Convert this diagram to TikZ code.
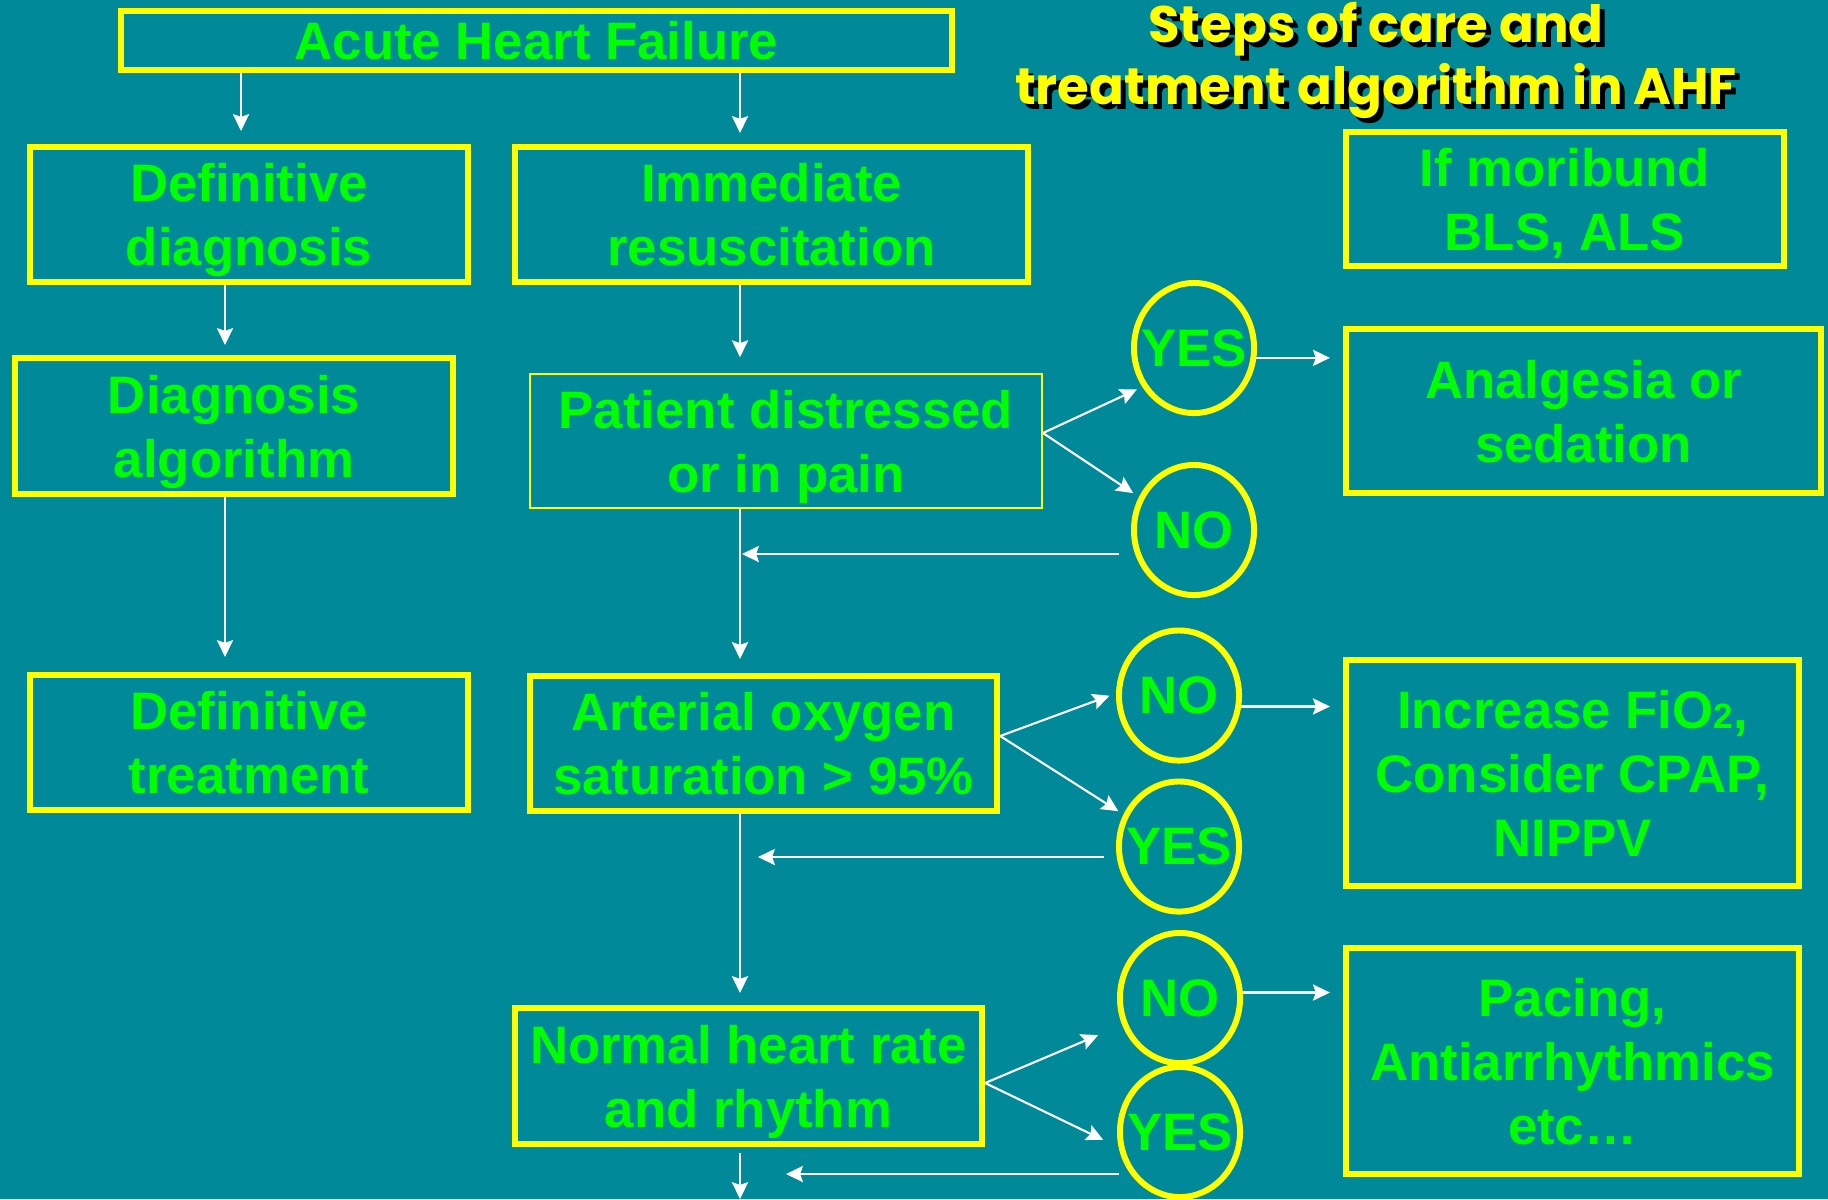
\documentclass[tikz,border=0pt]{standalone}
\usepackage{fontspec}
\setmainfont{Liberation Sans}
\newfontfamily\titlefont{Poppins}
\usetikzlibrary{arrows.meta,shapes.geometric}

\definecolor{slidebg}{RGB}{0,137,153}
\definecolor{boxyellow}{RGB}{255,255,0}
\definecolor{textgreen}{RGB}{0,255,0}

\tikzset{
  box/.style={draw=boxyellow, line width=1.7pt, inner sep=0pt, align=center,
    text=textgreen, text depth=0pt, font=\fontsize{15}{18.2}\selectfont\bfseries},
  thinbox/.style={box, line width=0.45pt},
  answer/.style={ellipse, draw=boxyellow, line width=1.7pt, inner sep=0pt,
    minimum width=1.2cm, minimum height=1.3cm, text=textgreen, text depth=0pt,
    font=\fontsize{15}{18.2}\selectfont\bfseries},
  titletext/.style={align=center, text=boxyellow, inner sep=0pt,
    font=\titlefont\fontsize{14.6}{17.6}\selectfont\bfseries},
  arr/.style={draw=white, line width=0.6pt,
    -{Stealth[length=4.8pt,width=4.6pt,inset=0.8pt]}}
}

\begin{document}
\begin{tikzpicture}[x=0.01cm, y=-0.01cm]
    % Slide background
    \useasboundingbox (0,0) rectangle (1828,1199);
    \fill[slidebg] (0,0) rectangle (1828,1199);

    % Title
    \node[titletext, text=black] (titleshadow) at (1381,65) {Steps of care and\\treatment algorithm in AHF};
    \node[titletext] (title) at (1376,60) {Steps of care and\\treatment algorithm in AHF};

    % Boxes
    \node[box, minimum width=8.31cm, minimum height=0.59cm] (ahf) at (536.5,40.5) {Acute Heart Failure};
    \node[box, minimum width=4.38cm, minimum height=1.35cm] (defdiag) at (249,214.5) {Definitive\\diagnosis};
    \node[box, minimum width=5.13cm, minimum height=1.35cm] (immed) at (771.5,214.5) {Immediate\\resuscitation};
    \node[box, minimum width=4.38cm, minimum height=1.34cm] (moribund) at (1565,199) {If moribund\\BLS, ALS};
    \node[box, minimum width=4.38cm, minimum height=1.36cm] (diagalg) at (234,426) {Diagnosis\\algorithm};
    \node[thinbox, minimum width=5.12cm, minimum height=1.34cm] (patient) at (786,441) {Patient distressed\\or in pain};
    \node[box, minimum width=4.75cm, minimum height=1.64cm] (analg) at (1583.5,411) {Analgesia or\\sedation};
    \node[box, minimum width=4.38cm, minimum height=1.35cm] (deftreat) at (249,742.5) {Definitive\\treatment};
    \node[box, minimum width=4.67cm, minimum height=1.35cm] (arterial) at (763.5,743.5) {Arterial oxygen\\saturation > 95\%};
    \node[box, minimum width=4.53cm, minimum height=2.26cm] (fio2) at (1572.5,773) {Increase FiO{\fontsize{10}{12}\selectfont 2},\\Consider CPAP,\\NIPPV};
    \node[box, minimum width=4.67cm, minimum height=1.36cm] (normal) at (748.5,1076) {Normal heart rate\\and rhythm};
    \node[box, minimum width=4.53cm, minimum height=2.26cm] (pacing) at (1572.5,1061) {Pacing,\\Antiarrhythmics\\etc…};

    % Yes / no circles
    \node[answer] (yes1) at (1194,348) {\makebox[0pt]{YES}};
    \node[answer] (no1) at (1194,530) {\makebox[0pt]{NO}};
    \node[answer] (no2) at (1179,695.5) {\makebox[0pt]{NO}};
    \node[answer] (yes2) at (1179,846.5) {\makebox[0pt]{YES}};
    \node[answer] (no3) at (1180,998) {\makebox[0pt]{NO}};
    \node[answer] (yes3) at (1180,1132) {\makebox[0pt]{YES}};

    % Spines
    \coordinate (ahfleft) at (241,0);
    \coordinate (leftspine) at (225,0);
    \coordinate (midspine) at (740,0);
    \coordinate (bottomend) at (740,1199);

    % From Acute Heart Failure
    \draw[arr, shorten >=0.13cm] (ahf.south -| ahfleft) -- (defdiag.north -| ahfleft);
    \draw[arr, shorten >=0.11cm] (ahf.south -| midspine) -- (immed.north -| midspine);

    % Left column
    \draw[arr, shorten >=0.10cm] (defdiag.south -| leftspine) -- (diagalg.north -| leftspine);
    \draw[arr, shorten >=0.15cm] (diagalg.south -| leftspine) -- (deftreat.north -| leftspine);

    % Middle column
    \draw[arr, shorten >=0.16cm] (immed.south -| midspine) -- (patient.north -| midspine);
    \draw[arr, shorten >=0.14cm] (patient.south -| midspine) -- (arterial.north -| midspine);
    \draw[arr, shorten >=0.12cm] (arterial.south -| midspine) -- (normal.north -| midspine);
    \draw[arr, shorten <=0.06cm] (normal.south -| midspine) -- (bottomend);

    % Distress or pain
    \draw[arr, shorten >=0.06cm] ([yshift=0.08cm]patient.east) -- (yes1.217);
    \draw[arr, shorten >=0.07cm] ([yshift=0.08cm]patient.east) -- (no1.149);
    \draw[arr, shorten >=0.13cm] (yes1.351) -- (yes1.351 -| analg.west);
    \coordinate (noback1) at ([shift={(-12,24)}]no1.west);
    \draw[arr, shorten >=0.02cm] (noback1) -- (noback1 -| midspine);

    % Oxygen saturation
    \draw[arr, shorten >=0.07cm] ([yshift=0.075cm]arterial.east) -- (no2.178);
    \draw[arr, shorten >=0.06cm] ([yshift=0.075cm]arterial.east) -- (yes2.150);
    \draw[arr, shorten >=0.13cm] (no2.350) -- (no2.350 -| fio2.west);
    \coordinate (yesback2) at ([shift={(-12,10.5)}]yes2.west);
    \draw[arr, shorten >=0.18cm] (yesback2) -- (yesback2 -| midspine);

    % Heart rate and rhythm
    \draw[arr, shorten >=0.26cm] ([yshift=-0.07cm]normal.east) -- (no3.205);
    \draw[arr, shorten >=0.17cm] ([yshift=-0.07cm]normal.east) -- (yes3.194);
    \draw[arr, shorten >=0.13cm] (no3.5) -- (no3.5 -| pacing.west);
    \coordinate (yesback3) at ([shift={(2,42)}]yes3.west);
    \draw[arr, shorten >=0.46cm] (yesback3) -- (yesback3 -| midspine);
\end{tikzpicture}
\end{document}
